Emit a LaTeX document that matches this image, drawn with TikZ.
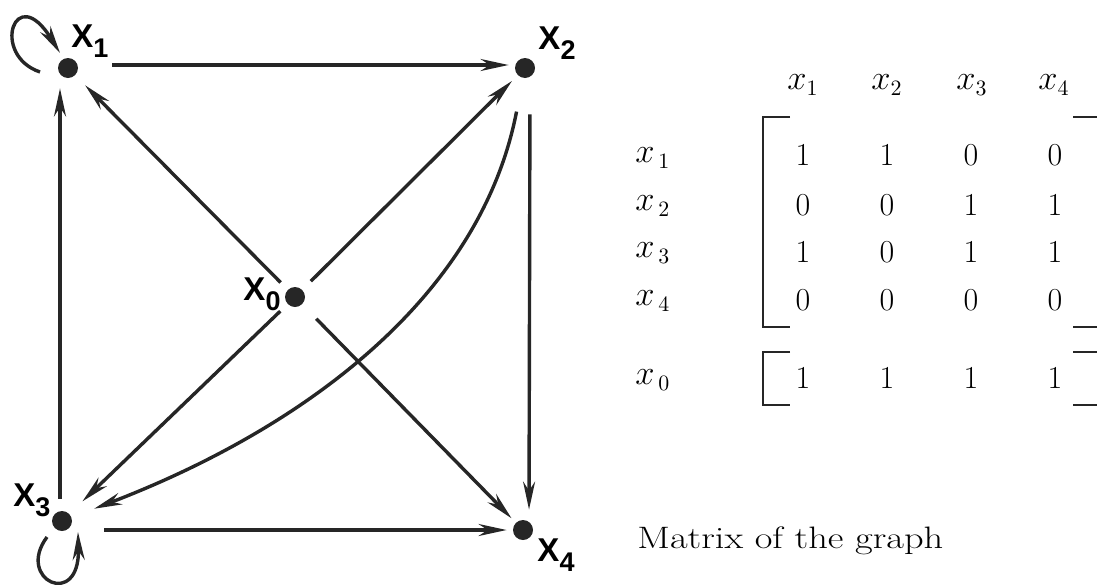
\documentclass[tikz,border=0pt]{standalone}
\usepackage{graphicx}
\usepackage{fontspec}
\newfontfamily\labfont{Liberation Sans}
\usetikzlibrary{arrows.meta}
\newcommand{\vlab}[1]{{\labfont\bfseries\fontsize{16.5}{16.5}\selectfont X}\raisebox{-5pt}{\labfont\bfseries\fontsize{13.5}{13.5}\selectfont #1}}
\begin{document}
\begin{tikzpicture}[x=0.5pt,y=-0.5pt,
  vdot/.style={circle,fill=black!85,inner sep=0pt,minimum size=10pt},
  vlabel/.style={inner sep=0pt},
  edge/.style={draw=black!85,line width=1.7pt,-{Stealth[length=14pt,width=6pt]}},
  mtxt/.style={inner sep=0pt,font=\fontsize{16}{19}\selectfont},
  bracket/.style={draw=black!85,line width=1pt},
]
\useasboundingbox (0,0) rectangle (1097,584);
% vertices
\node[vdot] (x1) at (68,68) {};
\node[vdot] (x2) at (525,68) {};
\node[vdot] (x0) at (295,297) {};
\node[vdot] (x3) at (62,521) {};
\node[vdot] (x4) at (523,530) {};
% labels
\node[vlabel] (l1) at (90,41) {\vlab{1}};
\node[vlabel] (l2) at (557,43) {\vlab{2}};
\node[vlabel] (l0) at (262,294) {\vlab{0}};
\node[vlabel] (l3) at (32,500) {\vlab{3}};
\node[vlabel] (l4) at (556,555) {\vlab{4}};
% edges
\draw[edge,shorten <=17pt,shorten >=3pt] ([yshift=1.5pt]x1.east) -- ([yshift=1.5pt]x2.west);
\draw[edge,shorten <=16pt,shorten >=3pt] ([yshift=-4.5pt]x3.east) -- (x4.west);
\draw[edge,shorten <=6pt,shorten >=5pt] ([xshift=-1pt]x3.north) -- ([xshift=-4pt]x1.south);
\draw[edge,shorten <=18pt,shorten >=5pt] ([xshift=2.5pt]x2.south) -- ([xshift=3pt]x4.north);
\draw[edge,shorten <=5pt,shorten >=7pt] (x0) -- (x1);
\draw[edge,shorten <=6pt,shorten >=4pt] (x0) -- (x2);
\draw[edge,shorten <=5pt,shorten >=9pt] (x0) -- (x3);
\draw[edge,shorten <=10pt,shorten >=3pt] (x0) -- (x4);
\draw[edge,shorten <=17pt,shorten >=12pt] (x2) .. controls (480,300) and (300,430) .. (x3);
% self loops
\coordinate (s1) at (40,72);
\coordinate (e1) at (60,53);
\coordinate (s3) at (47,537);
\coordinate (e3) at (78,532);
\draw[edge] (s1) .. controls (-10,55) and (15,-20) .. (e1);
\draw[edge] (s3) .. controls (15,580) and (80,610) .. (e3);
% matrix headers
\foreach \c/\xx in {1/803,2/887,3/972,4/1054}{
  \node[mtxt] (h\c) at (\xx,85) {$x_{\c}$};
}
% row labels
\foreach \r/\yy in {1/158,2/206,3/253,4/301}{
  \node[mtxt,anchor=west] (r\r) at (635,\yy) {$x_{\,\r}$};
}
\node[mtxt,anchor=west] (r0) at (635,380) {$x_{\,0}$};
% entries
\foreach \r/\yy/\vals in {1/155/{1,1,0,0},2/205/{0,0,1,1},3/252/{1,0,1,1},4/300/{0,0,0,0},0/378/{1,1,1,1}}{
  \foreach \v [count=\c] in \vals {
    \pgfmathsetmacro{\xx}{803+84*(\c-1)}
    \node[mtxt] (m\r\c) at (\xx,\yy) {\v};
  }
}
% brackets
\draw[bracket] (790,117) -- (763,117) -- (763,327) -- (790,327);
\draw[bracket] (1073,117) -- (1097,117);
\draw[bracket] (1073,327) -- (1097,327);
\draw[bracket] (790,352) -- (763,352) -- (763,405) -- (790,405);
\draw[bracket] (1073,352) -- (1097,352);
\draw[bracket] (1073,405) -- (1097,405);
% caption
\node[anchor=base west,inner sep=0pt,font=\fontsize{15.5}{18}\selectfont] (cap) at (637,548) {\scalebox{1.24}[1]{Matrix of the graph}};
\end{tikzpicture}
\end{document}
